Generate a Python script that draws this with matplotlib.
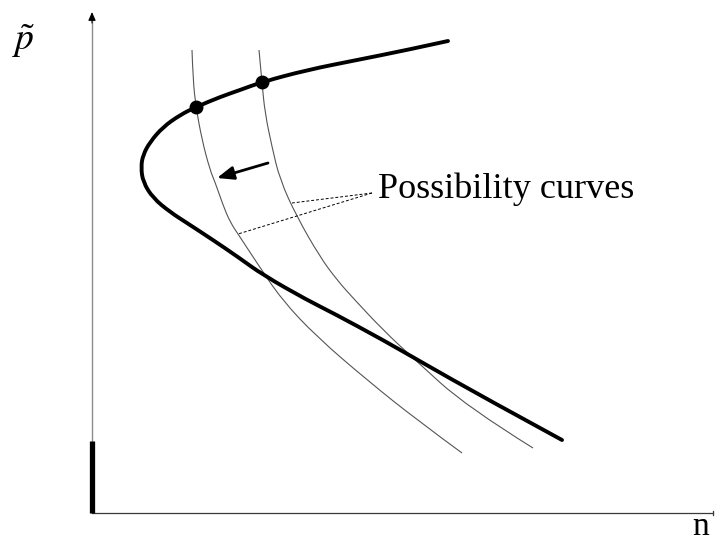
import matplotlib
matplotlib.use("Agg")
import matplotlib.pyplot as plt
from matplotlib.path import Path
from matplotlib.patches import PathPatch

# Thick frontier curve (n, p~), read from top end to bottom end
frontier_n = [356, 315, 265, 215, 170, 148, 128, 104, 88, 71, 58, 51, 49, 51, 61, 78, 95, 121, 146, 171, 215, 241, 291, 331, 391, 470]
frontier_p = [472, 463, 453, 443, 431, 423, 416, 406, 398, 386, 371, 358, 346, 331, 315, 301, 290, 273, 256, 238, 213, 200, 173, 150, 116, 73]

# Possibility curves (left = after the shift, right = before)
left_n = [100, 101, 104, 110, 118, 123, 131, 138, 148, 165, 190, 225, 275, 325, 370]
left_p = [463, 433, 406, 373, 343, 331, 308, 291, 276, 250, 213, 176, 133, 93, 60]
right_n = [167, 170, 173, 180, 188, 205, 228, 245, 261, 291, 321, 375, 441]
right_p = [463, 430, 400, 366, 333, 296, 256, 233, 215, 183, 155, 106, 65]

# Equilibrium points on the frontier
eq_n = [104, 170]
eq_p = [406, 431]

# Shift arrow (tail -> head)
arrow_tail = (176, 350)
arrow_head = (125, 335)

# Label leader lines
label_anchor = (280, 320)
leader_ends = [(200, 310), (146, 279)]


def smooth_path(xs, ys):
    """Quadratic B-spline path using the points as control vertices."""
    pts = list(zip(xs, ys))
    verts = [pts[0]]
    codes = [Path.MOVETO]
    for i in range(1, len(pts) - 2):
        mid = ((pts[i][0] + pts[i + 1][0]) / 2, (pts[i][1] + pts[i + 1][1]) / 2)
        verts += [pts[i], mid]
        codes += [Path.CURVE3, Path.CURVE3]
    verts += [pts[-2], pts[-1]]
    codes += [Path.CURVE3, Path.CURVE3]
    return Path(verts, codes)


fig = plt.figure(figsize=(7.15, 5.44), dpi=100)
ax = fig.add_axes([0, 0, 1, 1])
ax.set_xlim(-92, 623)
ax.set_ylim(-31, 513)
ax.axis("off")

# Axes
ax.plot([0, 0], [0, 495], color="#8c8c8c", lw=1.0, solid_capstyle="butt")
ax.annotate("", xy=(0, 501), xytext=(0, 490),
            arrowprops=dict(arrowstyle="-|>,head_length=0.5,head_width=0.22",
                            color="black", lw=0.8, shrinkA=0, shrinkB=0))
ax.plot([0, 621], [0, 0], color="#3a3a3a", lw=0.9)
ax.plot([621, 621], [-2, 2], color="#3a3a3a", lw=0.9)
ax.plot([0, 0], [0, 72], color="black", lw=3.8, solid_capstyle="butt")

# Curves
ax.add_patch(PathPatch(smooth_path(left_n, left_p), fill=False,
                       edgecolor="#555555", lw=0.8))
ax.add_patch(PathPatch(smooth_path(right_n, right_p), fill=False,
                       edgecolor="#555555", lw=0.8))
ax.add_patch(PathPatch(smooth_path(frontier_n, frontier_p), fill=False,
                       edgecolor="black", lw=2.8, capstyle="round",
                       joinstyle="round"))
ax.plot(eq_n, eq_p, "o", color="black", ms=9)

# Shift arrow
ax.annotate("", xy=arrow_head, xytext=arrow_tail,
            arrowprops=dict(arrowstyle="-|>,head_length=1.0,head_width=0.4",
                            color="black", lw=2.0, shrinkA=0, shrinkB=0))

# Leader lines and label
for end in leader_ends:
    ax.plot([label_anchor[0], end[0]], [label_anchor[1], end[1]],
            color="black", lw=0.7, linestyle=(0, (3, 2)))
ax.text(286, 315, "Possibility curves", family="Liberation Serif",
        fontsize=26, ha="left", va="baseline")

plt.rcParams["mathtext.fontset"] = "stix"
ax.text(-80, 463, r"$\tilde{p}$", fontsize=27, ha="left", va="baseline")
ax.text(600, -22, "n", family="Liberation Serif", fontsize=24,
        ha="left", va="baseline")

fig.savefig("out.png", dpi=100)
